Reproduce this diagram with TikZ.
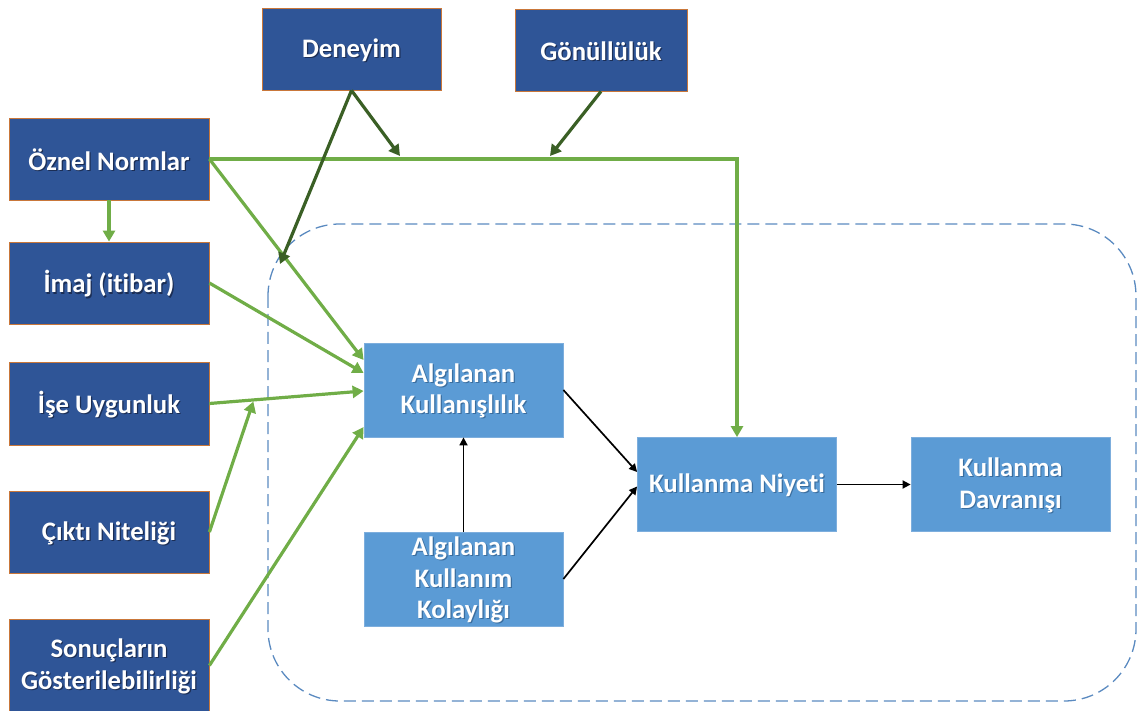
\documentclass[tikz,border=0pt]{standalone}
\usepackage{fontspec}
\setmainfont{Carlito}[Ligatures=NoCommon]
\usetikzlibrary{arrows.meta,calc}

\definecolor{navy}{HTML}{2F5597}
\definecolor{navyedge}{HTML}{C9773A}
\definecolor{sky}{HTML}{5B9BD5}
\definecolor{skyedge}{HTML}{7DAEDD}
\definecolor{leaf}{HTML}{70AD47}
\definecolor{moss}{HTML}{3A5F25}
\definecolor{framec}{HTML}{5A8AC0}
\definecolor{shadenavy}{HTML}{1B2E55}
\definecolor{shadesky}{HTML}{3B6E9F}

% white label line with a soft drop shadow behind it, set a little low
\newcommand\shtxt[1]{\leavevmode\raisebox{-1.5pt}[\height][\depth]{%
  \rlap{\kern1.2pt\raisebox{-1.2pt}{\textcolor{\shadecol}{#1}}}#1}}

\tikzset{
  lbl/.style={text=white, font=\bfseries\fontsize{26.7}{31.5}\selectfont,
    align=center, inner sep=0pt},
  darkbox/.style={lbl, fill=navy, draw=navyedge, line width=0.8pt,
    minimum width=200pt, minimum height=82pt,
    execute at begin node={\def\shadecol{shadenavy}}},
  lightbox/.style={lbl, fill=sky, draw=skyedge, line width=0.8pt,
    minimum width=199pt, minimum height=94pt,
    execute at begin node={\def\shadecol{shadesky}}},
  greenarrow/.style={leaf, line width=3.2pt, -{Triangle[length=11pt,width=12pt]}},
  mossarrow/.style={moss, line width=3.2pt, -{Triangle[length=11pt,width=12pt]}},
  blackarrow/.style={black, line width=1.7pt, -{Triangle[length=8pt,width=8pt]}},
  groupframe/.style={framec, line width=1.3pt, dash pattern=on 12pt off 6pt,
    rounded corners=72pt}
}

\begin{document}
\begin{tikzpicture}[x=1pt,y=-1pt]
\useasboundingbox (0,0) rectangle (1138,711);

% dashed frame around the core model
\draw[groupframe] (268,224) rectangle (1136,701);

% external factors
\node[darkbox, minimum width=179pt] (den) at (351.5,49) {\shtxt{Deneyim}};
\node[darkbox, minimum width=172pt] (gon) at (601,50) {\shtxt{Gönüllülük}};
\node[darkbox] (oz) at (109,159) {\shtxt{Öznel Normlar}};
\node[darkbox] (im) at (109,283) {\shtxt{İmaj (itibar)}};
\node[darkbox, minimum height=83pt] (ise) at (109,403.5) {\shtxt{İşe Uygunluk}};
\node[darkbox] (cik) at (109,532) {\shtxt{Çıktı Niteliği}};
\node[darkbox, minimum height=93pt] (son) at (109,665.5) {\shtxt{Sonuçların}\\\shtxt{Gösterilebilirliği}};

% core model
\node[lightbox] (ak) at (463.5,390) {\shtxt{Algılanan}\\\shtxt{Kullanışlılık}};
\node[lightbox] (akk) at (463.5,579) {\shtxt{Algılanan}\\\shtxt{Kullanım}\\\shtxt{Kolaylığı}};
\node[lightbox] (kn) at (737,484.5) {\shtxt{Kullanma Niyeti}};
\node[lightbox] (kd) at (1010.5,484.5) {\shtxt{Kullanma}\\\shtxt{Davranışı}};

% determinants
\draw[greenarrow] (oz.east) -| (kn.north);
\draw[greenarrow] (oz.east) -- ([yshift=30pt]ak.west);
\draw[greenarrow] (oz.south) -- (im.north);
\draw[greenarrow] (im.east) -- ([yshift=17pt]ak.west);
\draw[greenarrow] (ise.east) -- ([yshift=-1pt]ak.west);
\coordinate (iseline) at ($(ise.east)!0.285!([yshift=-1pt]ak.west)+(0,1.5)$);
\draw[greenarrow] (cik.east) -- (iseline);
\draw[greenarrow] (son.east) -- ([yshift=-37pt]ak.west);

% moderators
\coordinate (modA) at (280,264);
\coordinate (modB) at (400,156);
\coordinate (modC) at (550,156);
\draw[mossarrow] (den.south) -- (modA);
\draw[mossarrow] (den.south) -- (modB);
\draw[mossarrow] (gon.south) -- (modC);

% core relations
\draw[blackarrow] (ak.east) -- ([yshift=12.5pt]kn.west);
\draw[blackarrow] (akk.east) -- ([yshift=-2pt]kn.west);
\draw[blackarrow] (akk.north) -- (ak.south);
\draw[blackarrow] (kn.east) -- (kd.west);
\end{tikzpicture}
\end{document}
